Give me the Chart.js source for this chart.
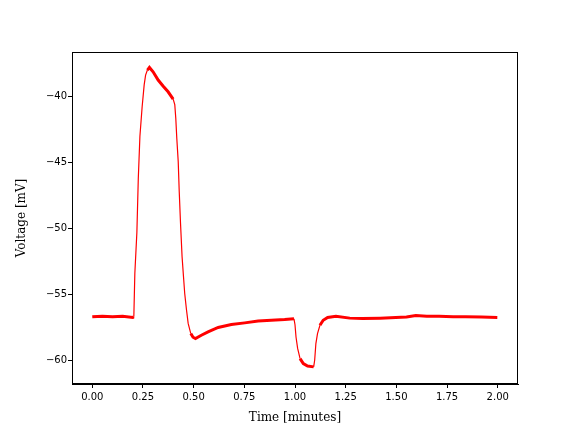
<!DOCTYPE html>
<html>
<head>
<meta charset="utf-8">
<script src="https://cdn.jsdelivr.net/npm/chart.js@4.4.1/dist/chart.umd.min.js"></script>
<style>
    html, body { margin: 0; padding: 0; background: #ffffff; }
    #wrap { width: 576px; height: 432px; }
</style>
</head>
<body>
<div id="wrap"><canvas id="chart" width="576" height="432"></canvas></div>
<script>
// Trace (time in minutes, voltage in mV)
const times = [0, 0.05, 0.10, 0.15, 0.20, 0.205, 0.21, 0.22, 0.227, 0.235, 0.246, 0.256, 0.263, 0.272, 0.282,
    0.30, 0.325, 0.35, 0.374, 0.399, 0.407, 0.412, 0.417, 0.424, 0.429, 0.435, 0.443, 0.450, 0.456, 0.465,
    0.473, 0.486, 0.497, 0.509, 0.538, 0.571, 0.621, 0.686, 0.752, 0.818, 0.883, 0.949, 0.995,
    1.000, 1.005, 1.013, 1.025, 1.041, 1.062, 1.092, 1.097, 1.103, 1.111, 1.123, 1.139, 1.161, 1.202,
    1.27, 1.333, 1.42, 1.497, 1.55, 1.596, 1.65, 1.711, 1.78, 1.842, 1.92, 1.998];
const volts = [-56.7, -56.65, -56.7, -56.65, -56.75, -56.7, -53.4, -50.3, -46.2, -43.0, -40.76, -39.1, -38.35, -37.97, -37.77,
    -38.1, -38.73, -39.2, -39.62, -40.18, -40.6, -41.65, -43.17, -44.94, -47.2, -49.5, -52.14, -53.66, -54.93, -56.2,
    -57.2, -57.97, -58.25, -58.35, -58.1, -57.85, -57.51, -57.29, -57.16, -57.01, -56.96, -56.91, -56.85,
    -57.3, -58.23, -59.1, -59.87, -60.25, -60.43, -60.5, -60.0, -58.73, -57.97, -57.34, -56.96, -56.75, -56.65,
    -56.8, -56.83, -56.8, -56.75, -56.72, -56.6, -56.65, -56.65, -56.7, -56.7, -56.72, -56.75];

const xTicks = [0, 0.25, 0.5, 0.75, 1.0, 1.25, 1.5, 1.75, 2.0];
const yTicks = [-60, -55, -50, -45, -40];

const tickFont = { family: 'DejaVu Sans', size: 10 };
const titleFont = { family: 'DejaVu Serif', size: 12 };

// matplotlib-style box round the plot area
const frame = {
    id: 'frame',
    afterDraw(chart) {
        const a = chart.chartArea;
        const c = chart.ctx;
        c.save();
        c.strokeStyle = '#000000';
        c.lineWidth = 1;
        c.strokeRect(a.left + 0.5, a.top + 0.5, a.right - a.left - 1, a.bottom - a.top - 1);
        c.restore();
    }
};

new Chart(document.getElementById('chart'), {
    type: 'line',
    data: {
        datasets: [{
            data: times.map((t, i) => ({ x: t, y: volts[i] })),
            borderColor: '#ff0000',
            borderWidth: 3,
            pointRadius: 0,
            tension: 0,
            fill: false,
            segment: {
                // steep parts of the trace are thin in the reference
                borderWidth: ctx => {
                    const dx = Math.abs(ctx.p1.x - ctx.p0.x);
                    const dy = Math.abs(ctx.p1.y - ctx.p0.y);
                    return dy > dx * 2.5 ? 1.2 : 3;
                }
            }
        }]
    },
    options: {
        responsive: false,
        animation: false,
        layout: { padding: { left: 0, top: 52, right: 58, bottom: 0 } },
        plugins: { legend: { display: false }, tooltip: { enabled: false } },
        scales: {
            x: {
                type: 'linear',
                min: -0.1,
                max: 2.1,
                afterBuildTicks: axis => { axis.ticks = xTicks.map(v => ({ value: v })); },
                afterFit: axis => { axis.height = 48; },
                grid: { drawOnChartArea: false, drawTicks: true, tickLength: 4, tickColor: '#000000' },
                border: { display: true, color: '#000000' },
                ticks: {
                    font: tickFont,
                    color: '#000000',
                    padding: 3,
                    maxRotation: 0,
                    callback: v => v.toFixed(2)
                },
                title: { display: true, text: 'Time [minutes]', font: titleFont, color: '#000000', padding: { top: 2, bottom: 7 } }
            },
            y: {
                type: 'linear',
                min: -61.8,
                max: -36.6,
                afterBuildTicks: axis => { axis.ticks = yTicks.map(v => ({ value: v })); },
                afterFit: axis => { axis.width = 72; },
                grid: { drawOnChartArea: false, drawTicks: true, tickLength: 4, tickColor: '#000000' },
                border: { display: true, color: '#000000' },
                ticks: {
                    font: tickFont,
                    color: '#000000',
                    padding: 1,
                    callback: v => String(v).replace('-', '\u2212')
                },
                title: { display: true, text: 'Voltage [mV]', font: titleFont, color: '#000000', padding: { top: 15, bottom: 6 } }
            }
        }
    },
    plugins: [frame]
});
</script>
</body>
</html>
